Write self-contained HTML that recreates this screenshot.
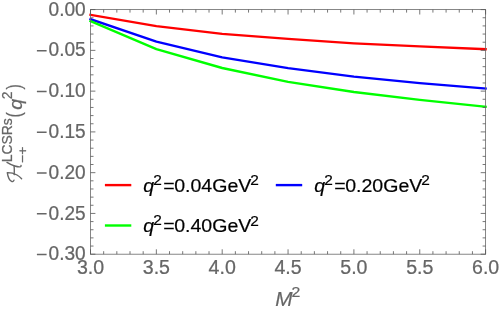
<!DOCTYPE html>
<html><head><meta charset="utf-8"><style>
html,body{margin:0;padding:0;background:#fff;}
svg{display:block;will-change:transform;}
text{font-family:"Liberation Sans",sans-serif;}
</style></head><body>
<svg width="500" height="313" viewBox="0 0 500 313">
<g fill="none" stroke-width="2.35" stroke-linejoin="round" stroke-linecap="square">
<path d="M90.5,14.8 L156.4,26.1 L222.2,33.8 L288.1,38.8 L353.9,43.3 L419.8,46.4 L485.6,49.2" stroke="#ff0000"/>
<path d="M90.5,19.2 L156.4,41.6 L222.2,57.3 L288.1,68.2 L353.9,76.7 L419.8,83.1 L485.6,88.5" stroke="#0000ff"/>
<path d="M90.5,21.2 L156.4,49.1 L222.2,68.0 L288.1,81.8 L353.9,92.0 L419.8,99.9 L485.6,106.7" stroke="#00ff00"/>
</g>
<rect x="90.5" y="9.6" width="395.1" height="244.6" fill="none" stroke="#6c6c6c" stroke-width="0.82"/>
<path d="M90.50,254.2v-4.9M90.50,9.6v4.9M103.67,254.2v-3.0M103.67,9.6v3.0M116.84,254.2v-3.0M116.84,9.6v3.0M130.01,254.2v-3.0M130.01,9.6v3.0M143.18,254.2v-3.0M143.18,9.6v3.0M156.35,254.2v-4.9M156.35,9.6v4.9M169.52,254.2v-3.0M169.52,9.6v3.0M182.69,254.2v-3.0M182.69,9.6v3.0M195.86,254.2v-3.0M195.86,9.6v3.0M209.03,254.2v-3.0M209.03,9.6v3.0M222.20,254.2v-4.9M222.20,9.6v4.9M235.37,254.2v-3.0M235.37,9.6v3.0M248.54,254.2v-3.0M248.54,9.6v3.0M261.71,254.2v-3.0M261.71,9.6v3.0M274.88,254.2v-3.0M274.88,9.6v3.0M288.05,254.2v-4.9M288.05,9.6v4.9M301.22,254.2v-3.0M301.22,9.6v3.0M314.39,254.2v-3.0M314.39,9.6v3.0M327.56,254.2v-3.0M327.56,9.6v3.0M340.73,254.2v-3.0M340.73,9.6v3.0M353.90,254.2v-4.9M353.90,9.6v4.9M367.07,254.2v-3.0M367.07,9.6v3.0M380.24,254.2v-3.0M380.24,9.6v3.0M393.41,254.2v-3.0M393.41,9.6v3.0M406.58,254.2v-3.0M406.58,9.6v3.0M419.75,254.2v-4.9M419.75,9.6v4.9M432.92,254.2v-3.0M432.92,9.6v3.0M446.09,254.2v-3.0M446.09,9.6v3.0M459.26,254.2v-3.0M459.26,9.6v3.0M472.43,254.2v-3.0M472.43,9.6v3.0M485.60,254.2v-4.9M485.60,9.6v4.9M90.5,9.60h4.9M485.6,9.60h-4.9M90.5,17.75h3.0M485.6,17.75h-3.0M90.5,25.91h3.0M485.6,25.91h-3.0M90.5,34.06h3.0M485.6,34.06h-3.0M90.5,42.21h3.0M485.6,42.21h-3.0M90.5,50.37h4.9M485.6,50.37h-4.9M90.5,58.52h3.0M485.6,58.52h-3.0M90.5,66.67h3.0M485.6,66.67h-3.0M90.5,74.83h3.0M485.6,74.83h-3.0M90.5,82.98h3.0M485.6,82.98h-3.0M90.5,91.13h4.9M485.6,91.13h-4.9M90.5,99.29h3.0M485.6,99.29h-3.0M90.5,107.44h3.0M485.6,107.44h-3.0M90.5,115.59h3.0M485.6,115.59h-3.0M90.5,123.75h3.0M485.6,123.75h-3.0M90.5,131.90h4.9M485.6,131.90h-4.9M90.5,140.05h3.0M485.6,140.05h-3.0M90.5,148.21h3.0M485.6,148.21h-3.0M90.5,156.36h3.0M485.6,156.36h-3.0M90.5,164.51h3.0M485.6,164.51h-3.0M90.5,172.67h4.9M485.6,172.67h-4.9M90.5,180.82h3.0M485.6,180.82h-3.0M90.5,188.97h3.0M485.6,188.97h-3.0M90.5,197.13h3.0M485.6,197.13h-3.0M90.5,205.28h3.0M485.6,205.28h-3.0M90.5,213.43h4.9M485.6,213.43h-4.9M90.5,221.59h3.0M485.6,221.59h-3.0M90.5,229.74h3.0M485.6,229.74h-3.0M90.5,237.89h3.0M485.6,237.89h-3.0M90.5,246.05h3.0M485.6,246.05h-3.0M90.5,254.20h4.9M485.6,254.20h-4.9" stroke="#555" stroke-width="0.8" fill="none"/>
<g font-size="19.5" fill="#666" stroke="#666" stroke-width="0.25"><text transform="translate(90.50,273.90) scale(1.005,1)" text-anchor="middle" >3.0</text><text transform="translate(156.35,273.90) scale(1.005,1)" text-anchor="middle" >3.5</text><text transform="translate(222.20,273.90) scale(1.005,1)" text-anchor="middle" >4.0</text><text transform="translate(288.05,273.90) scale(1.005,1)" text-anchor="middle" >4.5</text><text transform="translate(353.90,273.90) scale(1.005,1)" text-anchor="middle" >5.0</text><text transform="translate(419.75,273.90) scale(1.005,1)" text-anchor="middle" >5.5</text><text transform="translate(485.60,273.90) scale(1.005,1)" text-anchor="middle" >6.0</text></g><g font-size="19.5" fill="#666" stroke="#666" stroke-width="0.25"><text transform="translate(85.7,15.70) scale(0.978,1)" text-anchor="end">0.00</text><text transform="translate(85.7,56.47) scale(0.978,1)" text-anchor="end">0.05</text><text transform="translate(85.7,97.23) scale(0.978,1)" text-anchor="end">0.10</text><text transform="translate(85.7,138.00) scale(0.978,1)" text-anchor="end">0.15</text><text transform="translate(85.7,178.77) scale(0.978,1)" text-anchor="end">0.20</text><text transform="translate(85.7,219.53) scale(0.978,1)" text-anchor="end">0.25</text><text transform="translate(85.7,260.30) scale(0.978,1)" text-anchor="end">0.30</text><path d="M36.9,50.67h9.7M36.9,91.43h9.7M36.9,132.20h9.7M36.9,172.97h9.7M36.9,213.73h9.7M36.9,254.50h9.7" stroke="#666" stroke-width="1.45" fill="none"/></g>
<g font-size="19" fill="#666" stroke="#666" stroke-width="0.2"><text transform="translate(275.2,306) scale(1.06,1)"><tspan font-style="italic" font-size="19.6">M</tspan><tspan font-size="15" dy="-9.1" dx="-0.9">2</tspan></text></g>
<g fill="#666" stroke="#666" stroke-width="0.25" transform="matrix(0,-1,1,0,0,0)">
<text font-size="13.5" transform="translate(-162.8,27) scale(1.03,1)">−+</text>
<text font-size="15" transform="translate(-162.3,12) scale(0.927,1)">LCSRs</text>
<text font-size="20.4" transform="translate(-117.4,21.0) scale(0.78,1)">(</text>
<text font-size="19" transform="translate(-109.7,21.8) scale(1.03,1)" font-style="italic">q</text>
<text font-size="15" transform="translate(-99.2,12) scale(0.927,1)">2</text>
<text font-size="20.4" transform="translate(-89.4,21.0) scale(0.78,1)">)</text>
</g>
<g fill="none" stroke="#666" stroke-width="1.4" stroke-linecap="round" stroke-linejoin="round">
<path d="M7,162.4 C9.5,164 12.5,165.3 14.8,166 C17,166.7 19.4,167.1 20.6,166.6 C21.2,166.3 21.2,165.8 21,165.4"/>
<path d="M14.1,165.9 C14.4,169 14.4,172 14.2,174.6"/>
<path d="M14,180.1 C13.6,181.3 12.6,181.9 11.6,181.4 C9.6,180.3 7.9,177 7.3,172.6 C10,172.5 14,173.4 17,175 C19,176.1 20.6,177.6 21.6,178.7"/>
</g>
<g stroke-width="2.4" fill="none">
<path d="M104.9,185.1H131.3" stroke="#ff0000"/>
<path d="M104.9,225.5H131.3" stroke="#00ff00"/>
<path d="M275.8,185.1H302.2" stroke="#0000ff"/>
</g>
<g font-size="19" fill="#000" stroke="#000" stroke-width="0.2">
<text transform="translate(143.3,191.6) scale(1.03,1)"><tspan font-style="italic">q</tspan><tspan font-size="15" dy="-7.1" dx="-0.8">2</tspan><tspan dy="7.1" dx="1.3">=</tspan><tspan dx="-0.5">0.04GeV</tspan><tspan font-size="15" dy="-6.6" dx="-1.0">2</tspan></text>
<text transform="translate(143.3,232.1) scale(1.03,1)"><tspan font-style="italic">q</tspan><tspan font-size="15" dy="-7.1" dx="-0.8">2</tspan><tspan dy="7.1" dx="1.3">=</tspan><tspan dx="-0.5">0.40GeV</tspan><tspan font-size="15" dy="-6.6" dx="-1.0">2</tspan></text>
<text transform="translate(314.3,191.6) scale(1.03,1)"><tspan font-style="italic">q</tspan><tspan font-size="15" dy="-7.1" dx="-0.8">2</tspan><tspan dy="7.1" dx="1.3">=</tspan><tspan dx="-0.5">0.20GeV</tspan><tspan font-size="15" dy="-6.6" dx="-1.0">2</tspan></text>
</g>
</svg>
</body></html>
